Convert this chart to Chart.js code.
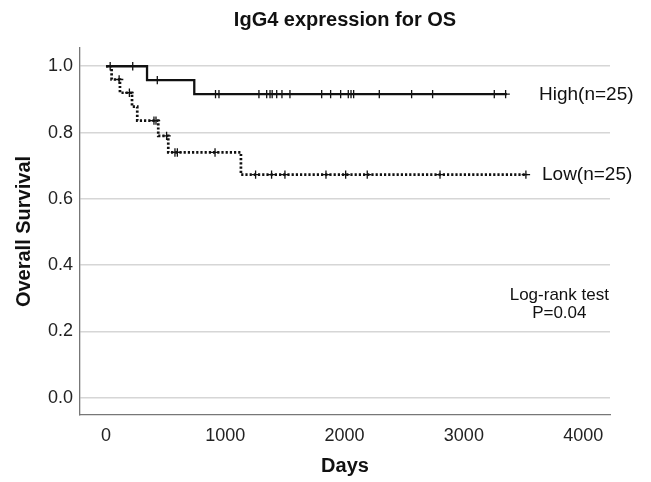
<!DOCTYPE html>
<html>
<head>
<meta charset="utf-8">
<script src="https://cdn.jsdelivr.net/npm/chart.js@4.4.1/dist/chart.umd.min.js"></script>
<style>
  html, body { margin: 0; padding: 0; background: #fff; }
</style>
</head>
<body>
<canvas id="kmChart" width="651" height="482"></canvas>
<script>
// High group (solid line): event days and survival after each event
const highEventDays = [0, 344, 740];
const highSurvival = [1.0, 0.958, 0.916];
const highLastDay = 3360;
const highCensored = [35, 224, 430, 918, 947, 1282, 1347, 1375, 1393, 1431, 1475, 1542,
  1808, 1883, 1967, 2031, 2054, 2076, 2291, 2562, 2738, 3255, 3350];

// Low group (dotted line)
const lowEventDays = [0, 47, 117, 218, 262, 438, 522, 1131];
const lowSurvival = [1.0, 0.96, 0.92, 0.878, 0.836, 0.79, 0.74, 0.673];
const lowLastDay = 3530;
const lowCensored = [110, 196, 402, 419, 508, 578, 598, 914, 1254, 1388, 1500, 1844,
  2009, 2190, 2800, 3520];

const xTicks = [0, 1000, 2000, 3000, 4000];
const yTicks = [0, 0.2, 0.4, 0.6, 0.8, 1.0];

const FONT = '"Liberation Sans", Arial, Helvetica, sans-serif';

// survival level at day t (step function)
function survAt(days, surv, t) {
  let s = surv[0];
  for (let i = 0; i < days.length; i++) {
    if (days[i] <= t) s = surv[i];
  }
  return s;
}

function stepPoints(days, surv, lastDay) {
  const pts = days.map((d, i) => ({ x: d, y: surv[i] }));
  pts.push({ x: lastDay, y: surv[surv.length - 1] });
  return pts;
}

function censorPoints(days, surv, cens) {
  return cens.map(t => ({ x: t, y: survAt(days, surv, t) }));
}

// title over the plot area, labels next to the curves, log-rank note
const labelPlugin = {
  id: 'kmLabels',
  afterDatasetsDraw(chart) {
    const { ctx, chartArea, scales: { x, y } } = chart;
    ctx.save();
    ctx.fillStyle = '#111';
    ctx.textBaseline = 'middle';

    ctx.textAlign = 'center';
    ctx.font = 'bold 20px ' + FONT;
    ctx.fillText('IgG4 expression for OS', (chartArea.left + chartArea.right) / 2, 20);

    ctx.textAlign = 'left';
    ctx.font = '19px ' + FONT;
    ctx.fillText('High(n=25)', x.getPixelForValue(3630), y.getPixelForValue(highSurvival[highSurvival.length - 1]) + 1);
    ctx.fillText('Low(n=25)', x.getPixelForValue(3655), y.getPixelForValue(lowSurvival[lowSurvival.length - 1]));

    ctx.textAlign = 'center';
    ctx.font = '17px ' + FONT;
    ctx.fillText('Log-rank test', x.getPixelForValue(3800), y.getPixelForValue(0.31));
    ctx.fillText('P=0.04', x.getPixelForValue(3800), y.getPixelForValue(0.255));
    ctx.restore();
  }
};

new Chart(document.getElementById('kmChart'), {
  type: 'line',
  data: {
    datasets: [
      {
        label: 'High',
        data: stepPoints(highEventDays, highSurvival, highLastDay),
        stepped: 'before',
        borderColor: '#111',
        borderWidth: 2.3,
        pointRadius: 0,
        fill: false
      },
      {
        label: 'Low',
        data: stepPoints(lowEventDays, lowSurvival, lowLastDay),
        stepped: 'before',
        borderColor: '#111',
        borderWidth: 2.7,
        borderDash: [2.2, 2],
        pointRadius: 0,
        fill: false
      },
      {
        label: 'High censored',
        data: censorPoints(highEventDays, highSurvival, highCensored),
        showLine: false,
        pointStyle: 'cross',
        pointRadius: 4.2,
        pointBorderWidth: 1.3,
        pointBorderColor: '#111'
      },
      {
        label: 'Low censored',
        data: censorPoints(lowEventDays, lowSurvival, lowCensored),
        showLine: false,
        pointStyle: 'cross',
        pointRadius: 4.2,
        pointBorderWidth: 1.3,
        pointBorderColor: '#111'
      }
    ]
  },
  options: {
    responsive: false,
    animation: false,
    layout: { padding: { left: 0, right: 41, top: 48, bottom: 0 } },
    plugins: {
      legend: { display: false },
      tooltip: { enabled: false },
      title: { display: false }
    },
    scales: {
      x: {
        type: 'linear',
        min: -218,
        max: 4225,
        afterBuildTicks: s => { s.ticks = xTicks.map(v => ({ value: v })); },
        afterFit: s => { s.height = 67; },
        grid: { display: false, drawTicks: false },
        border: { display: true, color: '#777', width: 1.3 },
        ticks: {
          color: '#222',
          padding: 10,
          font: { family: FONT, size: 18 },
          callback: v => String(v)
        },
        title: {
          display: true,
          text: 'Days',
          color: '#111',
          font: { family: FONT, size: 20, weight: 'bold' },
          padding: { top: 4, bottom: 4 }
        }
      },
      y: {
        type: 'linear',
        min: -0.052,
        max: 1.055,
        afterBuildTicks: s => { s.ticks = yTicks.map(v => ({ value: v })); },
        afterFit: s => { s.width = 80; },
        grid: { color: '#d6d6d6', lineWidth: 1.5, drawTicks: false },
        border: { display: true, color: '#777', width: 1.3 },
        ticks: {
          color: '#222',
          padding: 7,
          font: { family: FONT, size: 18 },
          callback: v => v.toFixed(1)
        },
        title: {
          display: true,
          text: 'Overall Survival',
          color: '#111',
          font: { family: FONT, size: 20, weight: 'bold' },
          padding: { top: 12, bottom: 0 }
        }
      }
    }
  },
  plugins: [labelPlugin]
});
</script>
</body>
</html>
